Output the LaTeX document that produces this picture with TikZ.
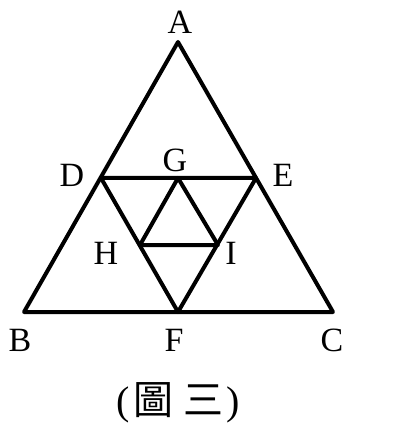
\documentclass[tikz,border=0pt]{standalone}
\usepackage{fontspec}
\setmainfont{Liberation Serif}
\newfontfamily\cjk{Noto Sans CJK TC}
\begin{document}
\begin{tikzpicture}[x=1pt,y=-1pt,
  seg/.style={line width=4pt,line join=round,line cap=round},
  lbl/.style={font=\fontsize{34}{34}\selectfont,inner sep=0pt}]
\useasboundingbox (0,0) rectangle (410,430);
\coordinate (A) at (178,42);
\coordinate (B) at (24,312);
\coordinate (C) at (333,312);
\coordinate (D) at (101,178);
\coordinate (E) at (256,178);
\coordinate (F) at (178,312);
\coordinate (G) at (178,178);
\coordinate (H) at (140,245);
\coordinate (I) at (218,245);
\draw[seg] (A) -- (B) -- (C) -- cycle;
\draw[seg] (D) -- (E) -- (F) -- cycle;
\draw[seg] (G) -- (H) -- (I) -- cycle;
\node[lbl] (lA) at (180,22) {A};
\node[lbl] (lB) at (20,340) {B};
\node[lbl] (lC) at (332,340) {C};
\node[lbl] (lD) at (72,175) {D};
\node[lbl] (lE) at (283,175) {E};
\node[lbl] (lF) at (174,340) {F};
\node[lbl] (lG) at (175,160) {G};
\node[lbl] (lH) at (106,253) {H};
\node[lbl] (lI) at (231,253) {I};
\node[inner sep=0pt,font=\fontsize{40}{40}\selectfont] (cap) at (178,403)
  {(\hspace{3pt}{\cjk 圖\hspace{10pt}三}\hspace{3pt})};
\end{tikzpicture}
\end{document}
